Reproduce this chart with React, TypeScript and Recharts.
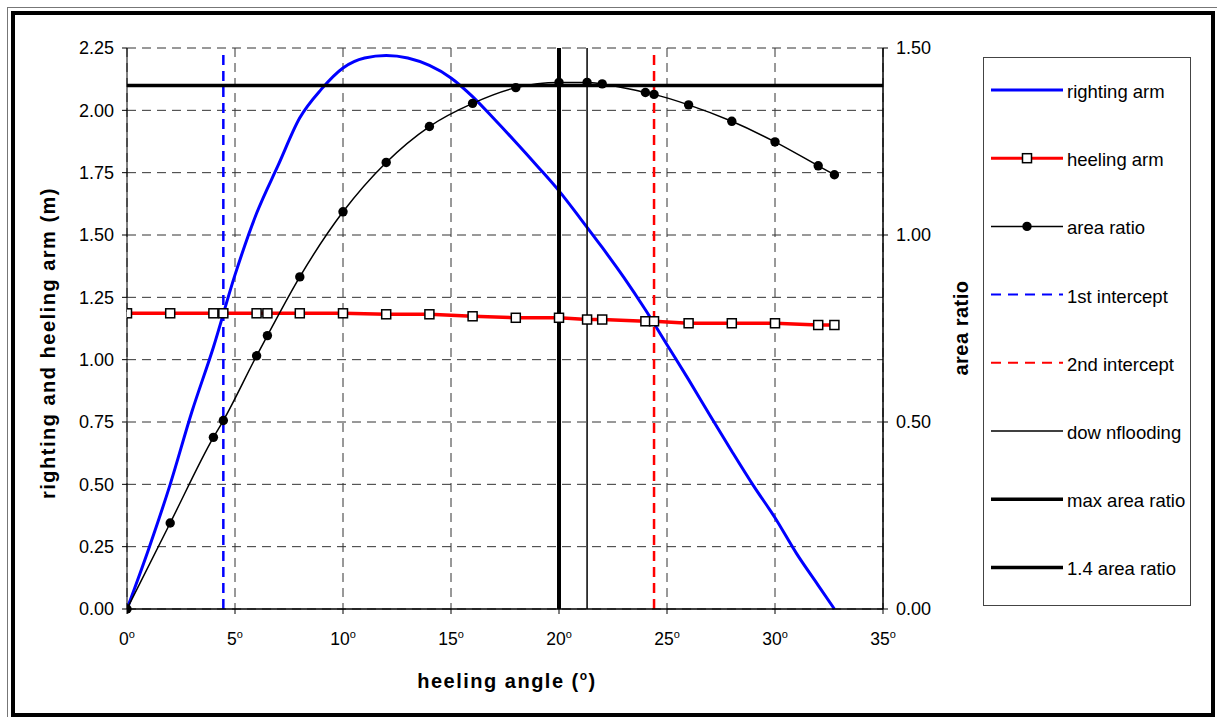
// Stability curves: righting arm vs heeling arm, with the running area ratio on the
// right axis and the intercept / downflooding / area-ratio markers.

import {
  CartesianGrid,
  ComposedChart,
  Line,
  ReferenceLine,
  XAxis,
  YAxis,
} from "recharts";

const FONT = "'Liberation Sans', Arial, sans-serif";

const angleTicks = [0, 5, 10, 15, 20, 25, 30, 35];
const armTicks = [0, 0.25, 0.5, 0.75, 1, 1.25, 1.5, 1.75, 2, 2.25];
const ratioTicks = [0, 0.5, 1, 1.5];

// righting arm (m)
const rightingAngles = [0, 1, 2, 3, 4, 5, 6, 7, 8, 9, 10, 11, 12, 13, 14, 15, 16, 17, 18, 19, 20, 21, 22, 23, 24, 25, 26, 27, 28, 29, 30, 31, 32, 32.75];
const rightingArm = [0, 0.24, 0.5, 0.79, 1.05, 1.34, 1.587, 1.78, 1.97, 2.085, 2.17, 2.21, 2.22, 2.21, 2.18, 2.13, 2.055, 1.965, 1.872, 1.776, 1.677, 1.565, 1.45, 1.33, 1.2, 1.06, 0.92, 0.775, 0.633, 0.495, 0.366, 0.222, 0.095, 0];

// sampled angles for heeling arm + area ratio
const sampleAngles = [0, 2, 4, 4.46, 6, 6.5, 8, 10, 12, 14, 16, 18, 20, 21.3, 22, 24, 24.4, 26, 28, 30, 32, 32.75];
const heelingArm = [1.186, 1.186, 1.186, 1.186, 1.186, 1.186, 1.186, 1.186, 1.182, 1.182, 1.174, 1.168, 1.168, 1.161, 1.161, 1.154, 1.154, 1.146, 1.146, 1.146, 1.139, 1.139];
const areaRatio = [0, 0.23, 0.459, 0.504, 0.677, 0.731, 0.888, 1.062, 1.194, 1.29, 1.352, 1.394, 1.408, 1.408, 1.404, 1.381, 1.376, 1.348, 1.304, 1.249, 1.185, 1.161];

const firstIntercept = 4.46;
const secondIntercept = 24.4;
const interceptTop = 2.23;
const downfloodingAngle = 21.3;
const maxRatioAngle = 20;
const ratioLimit = 1.4;

const legendItems = [
  { label: "righting arm", color: "#0000ff", width: 3 },
  { label: "heeling arm", color: "#ff0000", width: 3, marker: "square" },
  { label: "area ratio", color: "#000", width: 1.5, marker: "circle" },
  { label: "1st intercept", color: "#0000ff", width: 2, dash: "10 7" },
  { label: "2nd intercept", color: "#ff0000", width: 2, dash: "10 7" },
  { label: "dow nflooding", color: "#000", width: 1.5 },
  { label: "max area ratio", color: "#000", width: 3.5 },
  { label: "1.4 area ratio", color: "#000", width: 3.5 },
];

const rightingData = rightingAngles.map((a, i) => ({ angle: a, value: rightingArm[i] }));
const heelingData = sampleAngles.map((a, i) => ({ angle: a, value: heelingArm[i] }));
const ratioData = sampleAngles.map((a, i) => ({ angle: a, value: areaRatio[i] }));

const tickStyle = { fontSize: 18, fill: "#000", fontFamily: FONT };

function AngleTick({ x, y, payload }: any) {
  return (
    <text x={x} y={y} dy={13} textAnchor="middle" fontFamily={FONT} fontSize={17.5} fill="#000">
      {payload.value}
      <tspan dy={-7} fontSize={11}>o</tspan>
    </text>
  );
}

function SquareDot({ cx, cy, index }: any) {
  if (cx == null || cy == null) return null;
  return <rect key={`sq-${index}`} x={cx - 4.5} y={cy - 4.5} width={9} height={9} fill="#fff" stroke="#000" strokeWidth={1.5} />;
}

function RoundDot({ cx, cy, index }: any) {
  if (cx == null || cy == null) return null;
  return <circle key={`dot-${index}`} cx={cx} cy={cy} r={4.7} fill="#000" />;
}

function LegendBox() {
  return (
    <g>
      <rect x={983.5} y={57.5} width={207} height={548} fill="#fff" stroke="#444" strokeWidth={1} />
      {legendItems.map((it, i) => {
        const y = 90 + i * 68.2;
        return (
          <g key={it.label}>
            <line x1={991} x2={1063} y1={y} y2={y} stroke={it.color} strokeWidth={it.width} strokeDasharray={it.dash} />
            {it.marker === "square" && <rect x={1022.5} y={y - 4.5} width={9} height={9} fill="#fff" stroke="#000" strokeWidth={1.5} />}
            {it.marker === "circle" && <circle cx={1027} cy={y} r={4.7} fill="#000" />}
            <text x={1067} y={y + 8} fontFamily={FONT} fontSize={18.5} fill="#000">{it.label}</text>
          </g>
        );
      })}
    </g>
  );
}

export default function App() {
  return (
    <div style={{ position: "absolute", left: 0, top: 0, width: 1217, height: 717, background: "#fff", fontFamily: FONT }}>
      <ComposedChart width={1217} height={717} margin={{ top: 48, right: 254, left: 0, bottom: 78 }}>
        <CartesianGrid yAxisId="left" stroke="#333" strokeDasharray="9 6" />
        <XAxis type="number" dataKey="angle" domain={[0, 35]} ticks={angleTicks} allowDataOverflow
               height={30} tickSize={5} tickMargin={18} tick={<AngleTick />}
               axisLine={{ stroke: "#000", strokeWidth: 1.5 }} tickLine={{ stroke: "#000" }} />
        <YAxis yAxisId="left" domain={[0, 2.25]} ticks={armTicks} width={127} tickSize={5} tickMargin={8}
               tickFormatter={(v: number) => v.toFixed(2)} tick={tickStyle}
               axisLine={{ stroke: "#000" }} tickLine={{ stroke: "#000" }} />
        <YAxis yAxisId="right" orientation="right" domain={[0, 1.5]} ticks={ratioTicks} width={80} tickSize={5} tickMargin={8}
               tickFormatter={(v: number) => v.toFixed(2)} tick={tickStyle}
               axisLine={{ stroke: "#000", strokeWidth: 1.5 }} tickLine={{ stroke: "#000" }} />

        <Line yAxisId="left" data={heelingData} dataKey="value" name="heeling arm" type="linear"
              stroke="#ff0000" strokeWidth={3.5} dot={SquareDot} activeDot={false} isAnimationActive={false} />
        <Line yAxisId="left" data={rightingData} dataKey="value" name="righting arm" type="monotone"
              stroke="#0000ff" strokeWidth={3} dot={false} activeDot={false} isAnimationActive={false} />
        <Line yAxisId="right" data={ratioData} dataKey="value" name="area ratio" type="monotone"
              stroke="#000" strokeWidth={1.5} dot={RoundDot} activeDot={false} isAnimationActive={false} />

        <ReferenceLine yAxisId="left" segment={[{ x: firstIntercept, y: 0 }, { x: firstIntercept, y: interceptTop }]}
                       stroke="#0000ff" strokeWidth={2.5} strokeDasharray="10 6" />
        <ReferenceLine yAxisId="left" segment={[{ x: secondIntercept, y: 0 }, { x: secondIntercept, y: interceptTop }]}
                       stroke="#ff0000" strokeWidth={2.5} strokeDasharray="10 6" />
        <ReferenceLine yAxisId="left" x={downfloodingAngle} stroke="#000" strokeWidth={1.5} />
        <ReferenceLine yAxisId="left" x={maxRatioAngle} stroke="#000" strokeWidth={4} />
        <ReferenceLine yAxisId="right" y={ratioLimit} stroke="#000" strokeWidth={3.5} />
      </ComposedChart>

      <svg width={1217} height={717} style={{ position: "absolute", left: 0, top: 0, pointerEvents: "none" }}>
        <text transform="translate(55,343) rotate(-90)" textAnchor="middle" fontFamily={FONT} fontWeight="bold"
              fontSize={20} letterSpacing={1.5} fill="#000">righting and heeling arm (m)</text>
        <text transform="translate(968,328) rotate(-90)" textAnchor="middle" fontFamily={FONT} fontWeight="bold"
              fontSize={20} letterSpacing={0.5} fill="#000">area ratio</text>
        <text x={507} y={688} textAnchor="middle" fontFamily={FONT} fontWeight="bold" fontSize={20} letterSpacing={1.5} fill="#000">
          heeling angle (<tspan dy={-8} fontSize={12}>o</tspan><tspan dy={8}>)</tspan>
        </text>
        <LegendBox />
      </svg>

      <div style={{ position: "absolute", left: 7, top: 7, width: 1215, height: 715, border: "1px solid #777", boxSizing: "border-box" }} />
      <div style={{ position: "absolute", left: 11, top: 11, width: 1204, height: 706, border: "4px solid #000", boxSizing: "border-box" }} />
    </div>
  );
}
